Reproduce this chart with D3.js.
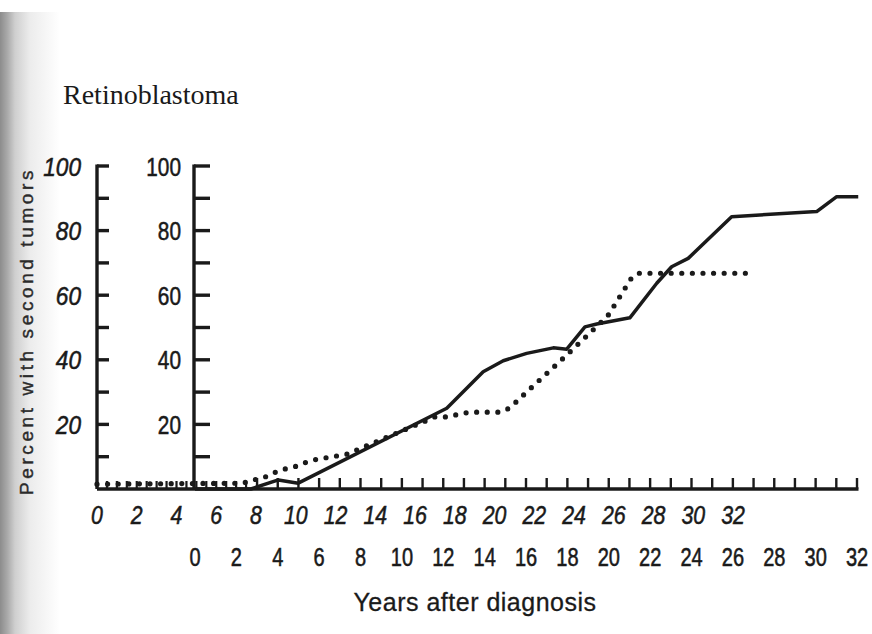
<!DOCTYPE html>
<html><head><meta charset="utf-8">
<script src="https://cdn.jsdelivr.net/npm/d3@7"></script>
<style>body{margin:0;background:#fff}svg{display:block}</style>
</head><body>
<svg id="chart" width="872" height="634"></svg>
<script>
// ---- data ----
const title = "Retinoblastoma";
const yAxisTitle = "Percent with second tumors";
const xAxisTitle = "Years after diagnosis";
const yLabelValues = [20, 40, 60, 80, 100];
const yTickValues = [10, 20, 30, 40, 50, 60, 70, 80, 90, 100];
const xLabelYears = [0, 2, 4, 6, 8, 10, 12, 14, 16, 18, 20, 22, 24, 26, 28, 30, 32];
const minorTickYearsA = [0.5, 1, 1.5, 2, 2.5, 3, 3.5, 4, 4.5, 5, 5.5, 6, 6.5, 7, 7.5];
const majorTickYearsB = [3, 4, 5, 6, 7, 8, 9, 10, 11, 12, 13, 14, 15, 16, 17, 18, 19, 20, 21, 22, 23, 24, 25, 26, 27, 28, 29, 30, 31, 32];

// solid curve (second, upright time axis)
const solidYears = [0, 2.7, 4.03, 4.99, 12.17, 13.93, 14.9, 16.03, 17.32, 17.97, 18.85, 19.42, 21.02, 22.32, 23.04, 23.84, 25.94, 30.05, 31.02, 32.06];
const solidPct   = [0, 0, 2.8, 1.8, 25.0, 36.3, 39.7, 42.0, 43.7, 43.3, 50.2, 51.1, 53.0, 63.7, 68.8, 71.4, 84.3, 85.9, 90.5, 90.5];

// dotted curve (first, italic time axis)
const dottedYears = [0, 7.35, 7.85, 8.35, 8.9, 9.46, 10.06, 10.57, 11.12, 11.77, 12.58, 17.0, 17.66, 18.21, 18.77, 20.28, 20.75, 21.79, 23.55, 25.31, 25.68, 26.9, 27.24, 32.85];
const dottedPct   = [1.5, 1.8, 2.8, 3.4, 5.0, 6.2, 7.1, 8.4, 9.3, 9.9, 10.8, 22.3, 22.3, 23.2, 23.8, 23.8, 25.0, 31.0, 41.0, 51.3, 53.4, 65.4, 66.8, 66.8];

// ---- drawing ----
const svg = d3.select("#chart");
const ink = "#1a1a1a";
const sans = "Liberation Sans, Arial, Helvetica, sans-serif";

// page shadow on the left edge
const defs = svg.append("defs");
const grad = defs.append("linearGradient").attr("id", "shade").attr("x1", 0).attr("x2", 1).attr("y1", 0).attr("y2", 0);
[[0, "#8c8c8c"], [0.12, "#a9a9a9"], [0.25, "#cfcfcf"], [0.5, "#ececec"], [1, "#ffffff"]]
  .forEach(([o, c]) => grad.append("stop").attr("offset", o).attr("stop-color", c));
svg.append("rect").attr("x", 0).attr("y", 12).attr("width", 60).attr("height", 622).attr("fill", "url(#shade)");

const y = d3.scaleLinear().domain([0, 100]).range([489, 166]);
const xA = d3.scaleLinear().domain([0, 32]).range([97, 733]);
const xB = d3.scaleLinear().domain([0, 32]).range([195, 857]);

// condensed text helper (the original uses a condensed grotesque)
function label(sel, x, yy, txt, size, sx, anchor, italic) {
  sel.append("text")
    .attr("transform", `translate(${x},${yy}) scale(${sx},1)`)
    .attr("text-anchor", anchor).attr("font-family", sans)
    .attr("font-size", size).attr("font-style", italic ? "italic" : "normal")
    .attr("fill", ink).attr("stroke", ink).attr("stroke-width", 0.55)
    .text(txt);
}

// title
svg.append("text").attr("x", 63).attr("y", 104)
  .attr("font-family", "Liberation Serif, Times New Roman, serif").attr("font-size", 28)
  .attr("fill", ink).text(title);

// y axis title
svg.append("text").attr("transform", "translate(33,331) rotate(-90)")
  .attr("text-anchor", "middle").attr("font-family", sans)
  .attr("font-size", 19).attr("fill", "#2a2a2a").attr("stroke", "#2a2a2a").attr("stroke-width", 0.4)
  .attr("letter-spacing", 3.6).text(yAxisTitle);

// two vertical axes
function yAxis(x0, tickLen, labelX, italic, sx) {
  const g = svg.append("g");
  g.append("line").attr("x1", x0).attr("x2", x0).attr("y1", y(100) - 1.6).attr("y2", y(0))
    .attr("stroke", ink).attr("stroke-width", 3.4);
  g.selectAll("line.t").data(yTickValues).join("line").attr("class", "t")
    .attr("x1", x0).attr("x2", x0 + tickLen).attr("y1", d => y(d)).attr("y2", d => y(d))
    .attr("stroke", ink).attr("stroke-width", 3.4);
  yLabelValues.forEach(d => label(g, labelX, y(d) + 9.5, d, 26, sx, "end", italic));
}
yAxis(xA(0), 12, 81, true, 0.87);
yAxis(xB(0) - 1, 16, 181, false, 0.8);

// bottom axis
svg.append("line").attr("x1", xA(0)).attr("x2", xB(32) + 1.5).attr("y1", y(0)).attr("y2", y(0))
  .attr("stroke", ink).attr("stroke-width", 3.4);
svg.selectAll("line.minor").data(minorTickYearsA).join("line").attr("class", "minor")
  .attr("x1", d => xA(d)).attr("x2", d => xA(d)).attr("y1", y(0)).attr("y2", y(0) - 8)
  .attr("stroke", ink).attr("stroke-width", 2.2);
svg.selectAll("line.major").data(majorTickYearsB).join("line").attr("class", "major")
  .attr("x1", d => xB(d)).attr("x2", d => xB(d)).attr("y1", y(0)).attr("y2", y(0) - 11)
  .attr("stroke", ink).attr("stroke-width", 2.4);

// x labels: italic row (first axis), upright row (second axis)
const gxa = svg.append("g"), gxb = svg.append("g");
xLabelYears.forEach(d => label(gxa, xA(d), 524, d, 26, 0.82, "middle", true));
xLabelYears.forEach(d => label(gxb, xB(d), 566, d, 26, 0.77, "middle", false));

svg.append("text").attr("x", 475).attr("y", 611).attr("text-anchor", "middle")
  .attr("font-family", sans).attr("font-size", 25).attr("letter-spacing", 0.5)
  .attr("fill", ink).attr("stroke", ink).attr("stroke-width", 0.3).text(xAxisTitle);

// curves
const solid = solidYears.map((t, i) => [xB(t), y(solidPct[i])]);
const dotted = dottedYears.map((t, i) => [xA(t), y(dottedPct[i])]);
const line = d3.line();
svg.append("path").attr("d", line(dotted)).attr("fill", "none")
  .attr("stroke", ink).attr("stroke-width", 5.2).attr("stroke-linecap", "round")
  .attr("stroke-dasharray", "0 10.6");
svg.append("path").attr("d", line(solid)).attr("fill", "none")
  .attr("stroke", ink).attr("stroke-width", 3.5).attr("stroke-linejoin", "round");
</script>
</body></html>
